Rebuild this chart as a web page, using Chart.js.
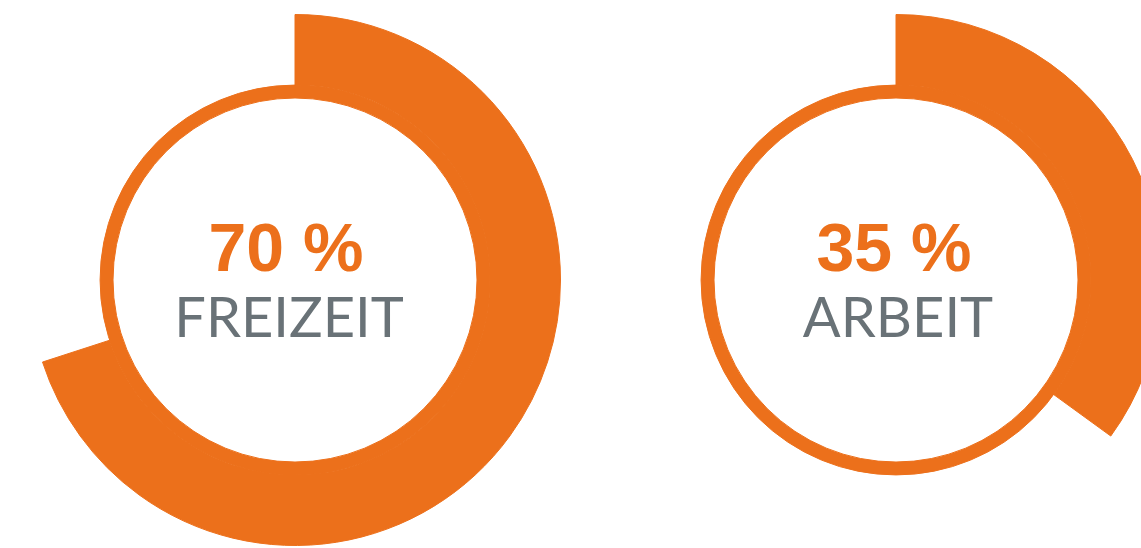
<!DOCTYPE html>
<html>
<head>
<meta charset="utf-8">
<script src="https://cdn.jsdelivr.net/npm/chart.js@4.4.0/dist/chart.umd.min.js"></script>
<style>
    html, body { margin: 0; padding: 0; background: #fff; }
    body { width: 1141px; height: 548px; overflow: hidden; position: relative; }
    canvas { position: absolute; }
    .wert, .name { position: absolute; transform: translateX(-50%); white-space: nowrap; line-height: 1; }
    .wert { font-family: "Liberation Sans", Arial, sans-serif; font-weight: bold; font-size: 68px; color: #ec701b; }
    .name { font-family: Lato, "Open Sans", sans-serif; font-weight: 400; font-size: 56px; color: #697277; }
</style>
</head>
<body>
<canvas id="chartFreizeit" width="532" height="532" style="left:29px; top:14px"></canvas>
<canvas id="chartArbeit" width="532" height="532" style="left:630px; top:14px"></canvas>
<div class="wert" id="wertFreizeit" style="left:286px; top:213px"></div>
<div class="name" id="nameFreizeit" style="left:289px; top:288px"></div>
<div class="wert" id="wertArbeit" style="left:894px; top:213px"></div>
<div class="name" id="nameArbeit" style="left:898px; top:288px"></div>
<script>
// Daten
const categories = ['FREIZEIT', 'ARBEIT'];
const percentValues = [70, 35];

const orange = '#ec701b';

// Ring-Diagramm: außen der Anteil, innen ein dünner geschlossener Ring
function drawRing(canvasId, value) {
    new Chart(document.getElementById(canvasId), {
        type: 'doughnut',
        data: {
            labels: ['Anteil', 'Rest'],
            datasets: [{
                data: [value, 100 - value],
                backgroundColor: [orange, 'rgba(0,0,0,0)'],
                borderColor: [orange, 'rgba(0,0,0,0)'],
                borderWidth: 1,
                weight: 71
            }, {
                data: [100],
                backgroundColor: [orange],
                borderColor: [orange],
                borderWidth: 1,
                weight: 13
            }]
        },
        options: {
            responsive: false,
            animation: false,
            devicePixelRatio: 1,
            cutout: 182,
            rotation: 0,
            layout: { padding: 0 },
            events: [],
            plugins: {
                legend: { display: false },
                tooltip: { enabled: false }
            }
        }
    });
}

drawRing('chartFreizeit', percentValues[0]);
drawRing('chartArbeit', percentValues[1]);

document.getElementById('wertFreizeit').textContent = percentValues[0] + ' %';
document.getElementById('nameFreizeit').textContent = categories[0];
document.getElementById('wertArbeit').textContent = percentValues[1] + ' %';
document.getElementById('nameArbeit').textContent = categories[1];
</script>
</body>
</html>
